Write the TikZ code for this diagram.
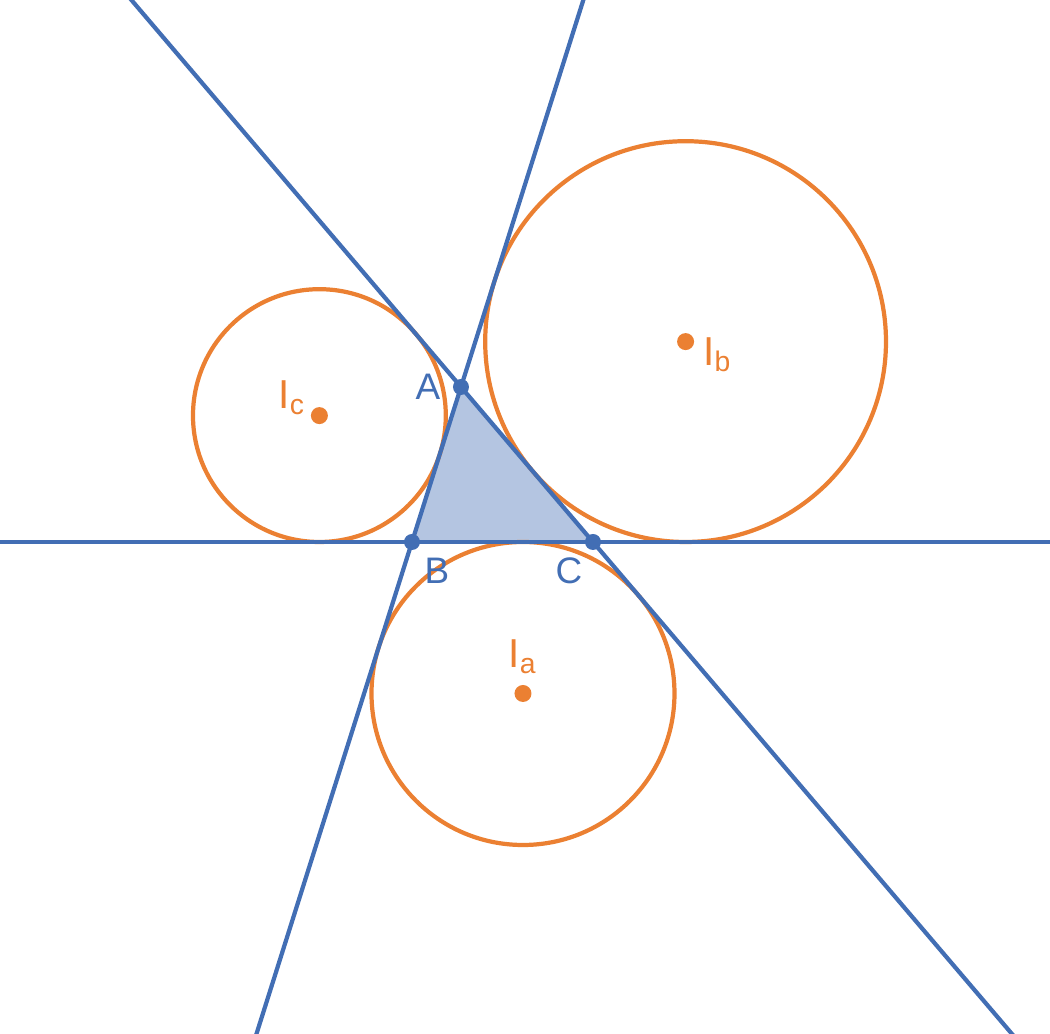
\documentclass[tikz,border=0pt]{standalone}
\usepackage{fontspec}
\setmainfont{Liberation Sans}
\usetikzlibrary{positioning}
\usetikzlibrary{calc}
\definecolor{lineblue}{RGB}{66,110,180}
\definecolor{circorange}{RGB}{235,128,50}

\begin{document}
\begin{tikzpicture}[
bluedot/.style={circle, fill=lineblue, inner sep=0pt, minimum size=0.16cm},
orangedot/.style={circle, fill=circorange, inner sep=0pt, minimum size=0.17cm},
sideline/.style={draw=lineblue, line width=1.2pt},
excircle/.style={draw=circorange, line width=1.2pt},
vertexlabel/.style={text=lineblue, font=\fontsize{10.5}{12}\selectfont, inner sep=0pt},
centerlabel/.style={text=circorange, font=\fontsize{11.5}{13}\selectfont, inner sep=0pt},
]
\useasboundingbox (-4.12,-4.92) rectangle (6.38,5.42);
\clip (-4.12,-4.92) rectangle (6.38,5.42);

%Points
\coordinate (B) at (0,0);
\coordinate (C) at (1.81,0);
\coordinate (A) at (0.49,1.55);
\coordinate (Ia) at (1.11,-1.515);
\coordinate (Ib) at (2.736,2.004);
\coordinate (Ic) at (-0.926,1.264);

%Triangle
\fill[lineblue!40] (A) -- (B) -- (C) -- cycle;

%Circles
\draw[excircle] (Ia) circle (1.515);
\draw[excircle] (Ib) circle (2.004);
\draw[excircle] (Ic) circle (1.264);

%Lines
\draw[sideline] ($(B)!-4!(C)$) -- ($(B)!4!(C)$);
\draw[sideline] ($(B)!-3.5!(A)$) -- ($(B)!4!(A)$);
\draw[sideline] ($(C)!-3.5!(A)$) -- ($(C)!4!(A)$);

%Nodes
\node[bluedot]   (dotA)  at (A)  {};
\node[bluedot]   (dotB)  at (B)  {};
\node[bluedot]   (dotC)  at (C)  {};
\node[orangedot] (dotIa) at (Ia) {};
\node[orangedot] (dotIb) at (Ib) {};
\node[orangedot] (dotIc) at (Ic) {};

%Labels
\node[vertexlabel] (labA) [left=0.2cm of A] {A};
\node[vertexlabel] (labB) [below right=0.15cm and 0.12cm of B] {B};
\node[vertexlabel] (labC) [below left=0.15cm and 0.1cm of C] {C};
\node[centerlabel] (labIa) [above=0.19cm of Ia] {I\textsubscript{a}};
\node[centerlabel] (labIb) [below right=-0.05cm and 0.17cm of Ib] {I\textsubscript{b}};
\node[centerlabel] (labIc) [above left=0cm and 0.13cm of Ic] {I\textsubscript{c}};
\end{tikzpicture}
\end{document}
